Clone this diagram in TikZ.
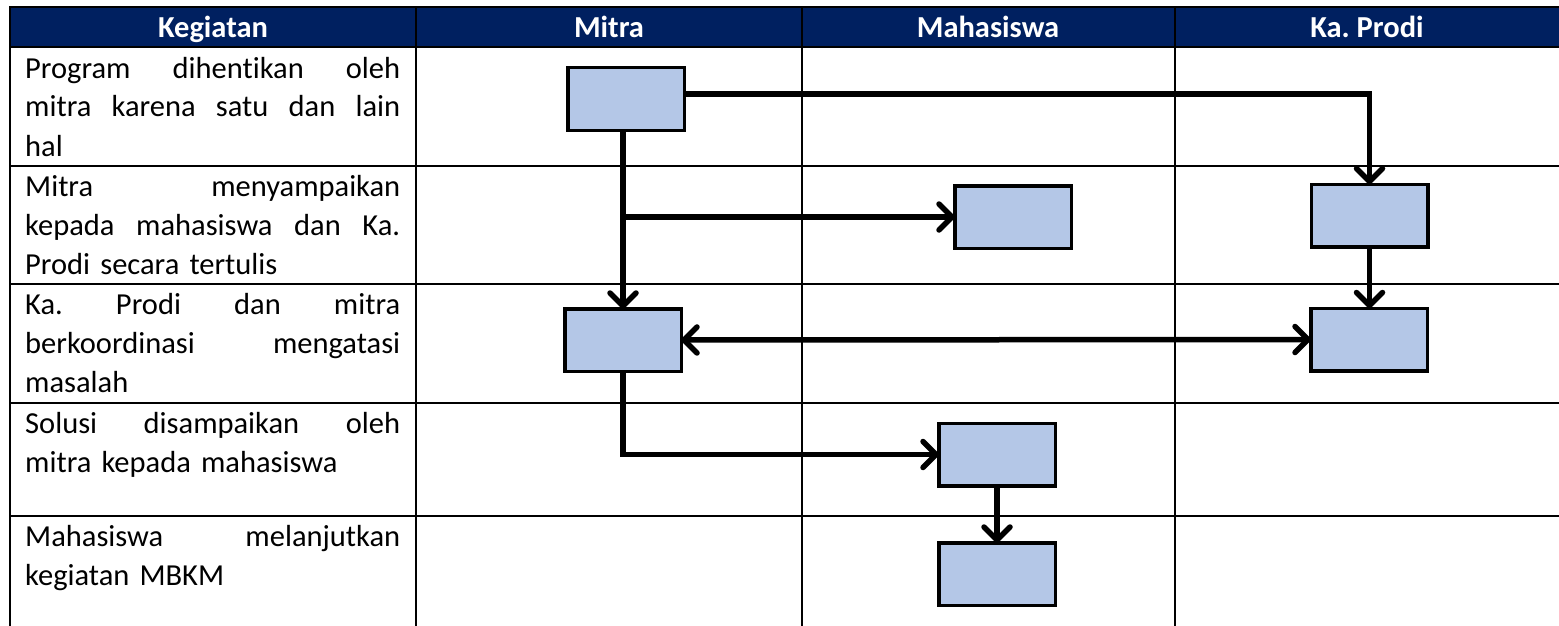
\documentclass[tikz,border=0pt]{standalone}
\usepackage{fontspec}
\setmainfont{Carlito}[Ligatures=NoCommon]
\frenchspacing
\usetikzlibrary{arrows.meta}
\definecolor{hdr}{HTML}{002060}
\definecolor{boxfill}{HTML}{B4C7E7}
\newcommand{\jline}[1]{\leavevmode\hbox to 375pt{#1}}
\begin{document}
\begin{tikzpicture}[x=1pt,y=-1pt,
  grid/.style={line width=2.5pt, line cap=rect},
  flowbox/.style={draw, line width=3.5pt, fill=boxfill, minimum width=116.5pt, minimum height=62.5pt, inner sep=0pt, outer sep=0pt},
  tipa/.tip={Straight Barb[length=13pt,width=26pt,round]},
  conn/.style={line width=5.5pt, -tipa},
  lbl/.style={anchor=base west, inner sep=0pt, text width=375pt, align=left, font=\fontsize{30.5}{39}\selectfont},
  hd/.style={text=white, font=\fontsize{30.5}{36}\selectfont\bfseries, anchor=base, inner sep=0pt}]
\useasboundingbox (0,0) rectangle (1559,626);
% header
\fill[hdr] (10,7) rectangle (1560,47);
\node[hd] (h1) at (213,38) {Kegiatan};
\node[hd] (h2) at (609,38) {Mitra};
\node[hd] (h3) at (988,38) {Mahasiswa};
\node[hd] (h4) at (1367,38) {Ka. Prodi};
% grid
\foreach \yy in {7,47,166,284,403,516} \draw[grid] (10,\yy) -- (1562,\yy);
\foreach \xx in {10,416,802,1175} \draw[grid] (\xx,7) -- (\xx,630);
% row texts
\node[lbl] (t1) at (25,78) {\jline{Program\hfill dihentikan\hfill oleh}\\\jline{mitra\hfill karena\hfill satu\hfill dan\hfill lain}\\hal};
\node[lbl] (t2) at (25,196) {\jline{Mitra\hfill menyampaikan}\\\jline{kepada\hfill mahasiswa\hfill dan\hfill Ka.}\\Prodi secara tertulis};
\node[lbl] (t3) at (25,314) {\jline{Ka.\hfill Prodi\hfill dan\hfill mitra}\\\jline{berkoordinasi\hfill mengatasi}\\masalah};
\node[lbl] (t4) at (25,433) {\jline{Solusi\hfill disampaikan\hfill oleh}\\mitra kepada mahasiswa};
\node[lbl] (t5) at (25,546) {\jline{Mahasiswa\hfill melanjutkan}\\kegiatan MBKM};
% boxes
\node[flowbox] (m1) at (626,99) {};
\node[flowbox] (kp2) at (1369.5,215.5) {};
\node[flowbox] (ms2) at (1013,217) {};
\node[flowbox] (m3) at (623,340) {};
\node[flowbox] (kp3) at (1369,339.5) {};
\node[flowbox] (ms4) at (997,454.5) {};
\node[flowbox] (ms5) at (997,574) {};
% connectors
\draw[conn] ([yshift=5pt]m1.east) -| (kp2.north);
\draw[conn] (m3.north |- m1.south) -- (m3.north);
\coordinate (br) at (m3.north |- ms2.west);
\draw[conn] ([xshift=-2.75pt]br) -- (ms2.west);
\draw[conn] (kp2.south) -- (kp2.south |- kp3.north);
\draw[line width=5.5pt, tipa-tipa] (m3.east) -- (kp3.west);
\draw[conn] (m3.south) |- (ms4.west);
\draw[conn] (ms4.south) -- (ms5.north);
% box outlines on top
\foreach \n in {m1,kp2,ms2,m3,kp3,ms4,ms5} \draw[line width=3.5pt] (\n.south west) rectangle (\n.north east);
\end{tikzpicture}
\end{document}
